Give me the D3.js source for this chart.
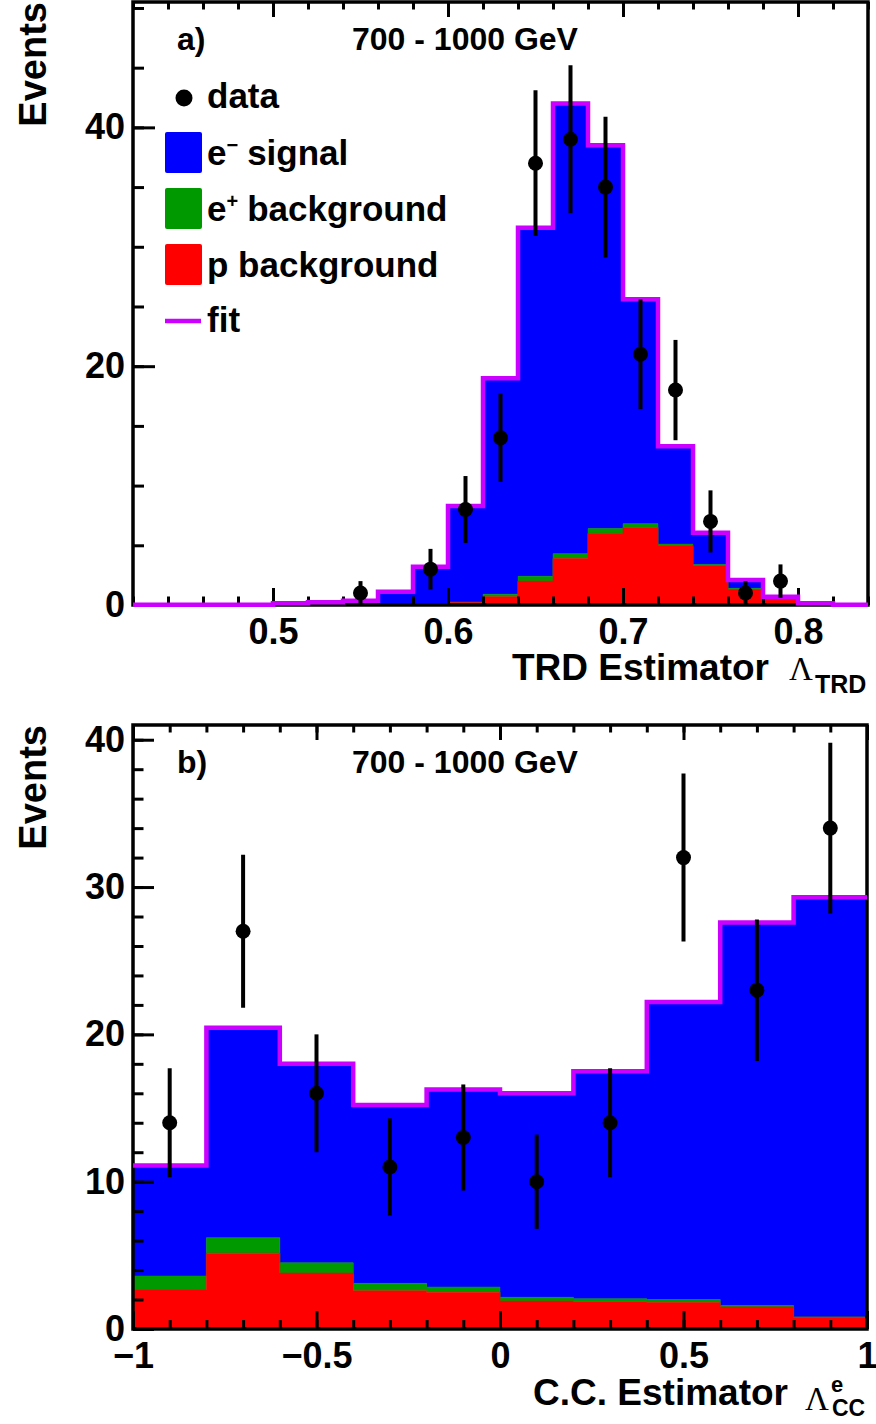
<!DOCTYPE html>
<html>
<head>
<meta charset="utf-8">
<script src="https://cdn.jsdelivr.net/npm/d3@7"></script>
<style>
  body { margin: 0; background: #fff; }
  svg { display: block; font-family: 'Liberation Sans', Arial, sans-serif; font-weight: bold; }
</style>
</head>
<body>
<script>
// ---- panel a) TRD estimator, 700 - 1000 GeV ----
const edgesA = [0.42, 0.44, 0.46, 0.48, 0.5, 0.52, 0.54, 0.56, 0.58, 0.6, 0.62,
  0.64, 0.66, 0.68, 0.7, 0.72, 0.74, 0.76, 0.78, 0.8, 0.82, 0.84];
const pBgA = [0, 0, 0, 0, 0, 0, 0.02, 0.05, 0.1, 0.2, 0.7, 2.0, 3.9, 6.0, 6.5, 5.0, 3.3, 1.25, 0.5, 0.1, 0];
const posBgA = [0, 0, 0, 0, 0, 0, 0, 0, 0.02, 0.05, 0.2, 0.4, 0.4, 0.4, 0.3, 0.1, 0.1, 0.15, 0.05, 0, 0];
const sigA = [0.03, 0.03, 0.03, 0.03, 0.15, 0.23, 0.33, 1.05, 3.08, 8.05, 18.1, 29.2, 37.7,
  32.1, 18.8, 8.2, 2.65, 0.7, 0.15, 0.04, 0.03];
const dataXA = [0.55, 0.59, 0.61, 0.63, 0.65, 0.67, 0.69, 0.71, 0.73, 0.75, 0.77, 0.79];
const dataA = [1, 3, 8, 14, 37, 39, 35, 21, 18, 7, 1, 2];
const errA = [1, 1.7, 2.8, 3.7, 6.1, 6.2, 5.9, 4.6, 4.2, 2.6, 1, 1.4];

// ---- panel b) C.C. estimator ----
const edgesB = [-1, -0.8, -0.6, -0.4, -0.2, 0, 0.2, 0.4, 0.6, 0.8, 1];
const pBgB = [2.65, 5.15, 3.8, 2.6, 2.5, 1.9, 1.85, 1.8, 1.5, 0.8];
const posBgB = [0.95, 1.05, 0.7, 0.5, 0.35, 0.25, 0.2, 0.2, 0.1, 0.02];
const sigB = [7.5, 14.25, 13.5, 12.1, 13.4, 13.85, 15.45, 20.2, 26.0, 28.48];
const dataXB = [-0.9, -0.7, -0.5, -0.3, -0.1, 0.1, 0.3, 0.5, 0.7, 0.9];
const dataB = [14, 27, 16, 11, 13, 10, 14, 32, 23, 34];
const errB = [3.7, 5.2, 4.0, 3.3, 3.6, 3.2, 3.7, 5.7, 4.8, 5.8];

const legendLabels = ['data', 'signal', 'background', 'p background', 'fit'];

const colors = { p: '#ff0000', pos: '#009900', sig: '#0000ff', fit: '#cc00ff' };

const svg = d3
  .select('body')
  .append('svg')
  .attr('width', 876)
  .attr('height', 1424);

const styleAxis = (g, size) => {
  g.select('.domain').remove();
  g.attr('font-size', size).attr('font-family', null);
  g.selectAll('.tick line').attr('stroke', '#000').attr('stroke-width', 3);
  g.selectAll('.tick text').attr('fill', '#000');
};

const drawPanel = (cfg) => {
  const x = d3.scaleLinear().domain(cfg.xDomain).range([cfg.left, cfg.right]);
  const y = d3.scaleLinear().domain(cfg.yDomain).range([cfg.bottom, cfg.top]);
  const g = svg.append('g');

  const rows = cfg.p.map((v, i) => ({ p: v, pos: cfg.pos[i], sig: cfg.sig[i] }));
  const series = d3.stack().keys(['p', 'pos', 'sig'])(rows);
  const n = rows.length;

  // step points with closing edge
  const stepPts = (s) =>
    s.map((d, i) => ({ x: cfg.edges[i], y0: d[0], y1: d[1] }))
      .concat([{ x: cfg.edges[n], y0: s[n - 1][0], y1: s[n - 1][1] }]);

  const area = d3
    .area()
    .curve(d3.curveStepAfter)
    .x((d) => x(d.x))
    .y0((d) => y(d.y0))
    .y1((d) => y(d.y1));

  // signal band on top, backgrounds below
  [...series].reverse().forEach((s) => {
    g.append('path')
      .attr('d', area(stepPts(s)))
      .attr('fill', colors[s.key])
      .attr('stroke', colors[s.key])
      .attr('stroke-width', 0.5);
  });

  // frame
  g.append('rect')
    .attr('x', cfg.left)
    .attr('y', cfg.top)
    .attr('width', cfg.right - cfg.left)
    .attr('height', cfg.bottom - cfg.top)
    .attr('fill', 'none')
    .attr('stroke', '#000')
    .attr('stroke-width', 3.5);

  // axes
  g.append('g')
    .attr('transform', `translate(${cfg.left},0)`)
    .call(d3.axisLeft(y).tickValues(cfg.yMinor).tickSize(-cfg.yTick / 2).tickFormat(''))
    .call((a) => styleAxis(a, 36));
  g.append('g')
    .attr('transform', `translate(${cfg.left},0)`)
    .call(d3.axisLeft(y).tickValues(cfg.yMajor).tickSize(-cfg.yTick).tickPadding(8).tickFormat(d3.format('d')))
    .call((a) => styleAxis(a, 36));
  g.append('g')
    .attr('transform', `translate(0,${cfg.bottom})`)
    .call(d3.axisBottom(x).tickValues(cfg.xMinor).tickSize(-cfg.xTick / 2).tickFormat(''))
    .call((a) => styleAxis(a, 36));
  g.append('g')
    .attr('transform', `translate(0,${cfg.bottom})`)
    .call(d3.axisBottom(x).tickValues(cfg.xMajor).tickSize(-cfg.xTick).tickPadding(13).tickFormat(d3.format('~g')))
    .call((a) => styleAxis(a, 36));
  g.append('g')
    .attr('transform', `translate(0,${cfg.top})`)
    .call(d3.axisTop(x).tickValues(cfg.xMinor).tickSize(-cfg.topTick / 2).tickFormat(''))
    .call((a) => styleAxis(a, 36));
  g.append('g')
    .attr('transform', `translate(0,${cfg.top})`)
    .call(d3.axisTop(x).tickValues(cfg.xMajor).tickSize(-cfg.topTick).tickFormat(''))
    .call((a) => styleAxis(a, 36));

  // fit line
  const top = series[series.length - 1];
  g.append('path')
    .attr(
      'd',
      d3
        .line()
        .curve(d3.curveStepAfter)
        .x((d) => x(d.x))
        .y((d) => y(d.y1))(stepPts(top))
    )
    .attr('fill', 'none')
    .attr('stroke', colors.fit)
    .attr('stroke-width', 4.5);

  // data points
  const pts = cfg.dataX.map((v, i) => ({ x: v, y: cfg.data[i], e: cfg.err[i] }));
  g.append('g')
    .selectAll('line')
    .data(pts)
    .join('line')
    .attr('x1', (d) => x(d.x))
    .attr('x2', (d) => x(d.x))
    .attr('y1', (d) => y(Math.max(0, d.y - d.e)))
    .attr('y2', (d) => y(d.y + d.e))
    .attr('stroke', '#000')
    .attr('stroke-width', 4);
  g.append('g')
    .selectAll('circle')
    .data(pts)
    .join('circle')
    .attr('cx', (d) => x(d.x))
    .attr('cy', (d) => y(d.y))
    .attr('r', 7.5)
    .attr('fill', '#000');

  // labels
  g.append('text')
    .attr('transform', `translate(46,${cfg.top})rotate(-90)`)
    .attr('text-anchor', 'end')
    .attr('font-size', 38)
    .text('Events');
  g.append('text')
    .attr('x', 177)
    .attr('y', cfg.top + 48)
    .attr('font-size', 32)
    .text(cfg.tag);
  g.append('text')
    .attr('x', 352)
    .attr('y', cfg.top + 48)
    .attr('font-size', 32)
    .text('700 - 1000 GeV');

  return { x, y, g };
};

const pa = drawPanel({
  left: 133, right: 868, top: 2, bottom: 605,
  xDomain: [0.42, 0.84], yDomain: [0, 50.5],
  edges: edgesA, p: pBgA, pos: posBgA, sig: sigA,
  dataX: dataXA, data: dataA, err: errA,
  yMajor: [0, 20, 40], yMinor: d3.range(0, 51, 5),
  xMajor: [0.5, 0.6, 0.7, 0.8], xMinor: d3.range(0, 22).map((i) => 0.42 + i * 0.02),
  yTick: 22, xTick: 17, topTick: 15, tag: 'a)',
});

const pb = drawPanel({
  left: 133, right: 867, top: 725, bottom: 1329,
  xDomain: [-1, 1], yDomain: [0, 41],
  edges: edgesB, p: pBgB, pos: posBgB, sig: sigB,
  dataX: dataXB, data: dataB, err: errB,
  yMajor: [0, 10, 20, 30, 40], yMinor: d3.range(0, 42, 2),
  xMajor: [-1, -0.5, 0, 0.5, 1], xMinor: d3.range(0, 21).map((i) => -1 + i * 0.1),
  yTick: 21, xTick: 18, topTick: 15, tag: 'b)',
});

// axis titles
const serif = "'Liberation Serif', 'DejaVu Serif', serif";
const titleA = pa.g.append('g');
titleA.append('text').attr('x', 769).attr('y', 680).attr('text-anchor', 'end')
  .attr('font-size', 37).text('TRD Estimator');
titleA.append('text').attr('x', 789).attr('y', 680)
  .attr('font-family', serif).attr('font-weight', 'normal')
  .attr('font-size', 33).text('Λ');
titleA.append('text').attr('x', 815).attr('y', 693).attr('font-size', 25).text('TRD');

const titleB = pb.g.append('g');
titleB.append('text').attr('x', 788).attr('y', 1405).attr('text-anchor', 'end')
  .attr('font-size', 37).text('C.C. Estimator');
titleB.append('text').attr('x', 805).attr('y', 1410)
  .attr('font-family', serif).attr('font-weight', 'normal')
  .attr('font-size', 33).text('Λ');
titleB.append('text').attr('x', 831).attr('y', 1392).attr('font-size', 22).text('e');
titleB.append('text').attr('x', 832).attr('y', 1416).attr('font-size', 23).text('CC');

// legend (panel a)
const legend = pa.g.append('g').attr('font-size', 35);
legend.append('circle').attr('cx', 184).attr('cy', 98).attr('r', 8.5).attr('fill', '#000');
legend.append('text').attr('x', 207).attr('y', 108).text(legendLabels[0]);

const boxes = [
  { c: colors.sig, y: 132, pre: 'e', sup: '−', label: legendLabels[1], base: 165 },
  { c: colors.pos, y: 188, pre: 'e', sup: '+', label: legendLabels[2], base: 221 },
  { c: colors.p, y: 244, pre: '', sup: '', label: legendLabels[3], base: 277 },
];
boxes.forEach((b) => {
  legend.append('rect').attr('x', 165).attr('y', b.y).attr('width', 37).attr('height', 41)
    .attr('rx', 2).attr('fill', b.c);
  const t = legend.append('text').attr('x', 207).attr('y', b.base);
  if (b.pre) {
    t.append('tspan').text(b.pre);
    t.append('tspan').attr('font-size', 20).attr('dy', -13).text(b.sup);
    t.append('tspan').attr('dy', 13).attr('dx', 9).text(b.label);
  } else {
    t.text(b.label);
  }
});
legend.append('line').attr('x1', 165).attr('x2', 201).attr('y1', 321).attr('y2', 321)
  .attr('stroke', colors.fit).attr('stroke-width', 4.5);
legend.append('text').attr('x', 207).attr('y', 332).text(legendLabels[4]);
</script>
</body>
</html>
